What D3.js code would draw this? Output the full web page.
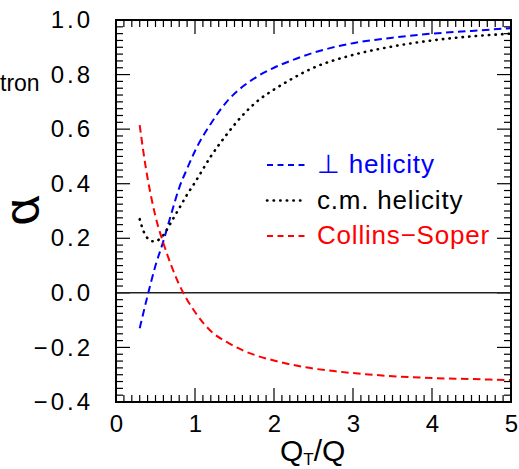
<!DOCTYPE html>
<html>
<head>
<meta charset="utf-8">
<script src="https://cdn.jsdelivr.net/npm/d3@7"></script>
<style>
  html, body { margin: 0; padding: 0; background: #fff; }
  svg { display: block; }
  text { font-family: "Liberation Sans", Arial, sans-serif; }
</style>
</head>
<body>
<svg id="chart" width="519" height="469"></svg>
<script>
// alpha vs Q_T/Q in three frames
const qtPerp    = [0.3, 0.4, 0.5, 0.6, 0.7, 0.8, 0.9, 1.0, 1.2, 1.4, 1.6, 1.8, 2.0, 2.25, 2.5, 3.0, 3.5, 4.0, 4.5, 5.0];
const alphaPerp = [-0.13, -0.01, 0.10, 0.19, 0.29, 0.385, 0.455, 0.52, 0.62, 0.70, 0.755, 0.795, 0.825, 0.855, 0.88, 0.915, 0.935, 0.95, 0.96, 0.97];

const qtCM      = [0.3, 0.35, 0.4, 0.45, 0.5, 0.55, 0.6, 0.7, 0.8, 0.9, 1.0, 1.2, 1.4, 1.6, 1.8, 2.0, 2.2, 2.5, 3.0, 3.5, 4.0, 4.5, 5.0];
const alphaCM   = [0.27, 0.225, 0.20, 0.19, 0.188, 0.197, 0.212, 0.26, 0.31, 0.36, 0.405, 0.50, 0.58, 0.65, 0.705, 0.745, 0.78, 0.825, 0.872, 0.903, 0.925, 0.94, 0.95];

const qtCS      = [0.3, 0.35, 0.4, 0.45, 0.5, 0.6, 0.7, 0.8, 0.9, 1.0, 1.2, 1.4, 1.6, 1.8, 2.0, 2.4, 2.8, 3.2, 3.6, 4.0, 4.5, 5.0];
const alphaCS   = [0.615, 0.51, 0.42, 0.345, 0.28, 0.182, 0.10, 0.03, -0.025, -0.07, -0.14, -0.18, -0.21, -0.232, -0.248, -0.273, -0.288, -0.299, -0.307, -0.312, -0.316, -0.32];

const xTickValues = [0, 1, 2, 3, 4, 5];
const yTickValues = [-0.4, -0.2, 0.0, 0.2, 0.4, 0.6, 0.8, 1.0];

const legendLabels = ["\u22A5 helicity", "c.m. helicity", "Collins\u2212Soper"];

const series = [
  { x: qtPerp, y: alphaPerp, color: "#0000ff", label: legendLabels[0] },
  { x: qtCM,   y: alphaCM,   color: "#000000", label: legendLabels[1], dotted: true },
  { x: qtCS,   y: alphaCS,   color: "#ff0000", label: legendLabels[2] }
];

const svg = d3.select("#chart");
const L = 116, R = 511, T = 20, B = 402;

const x = d3.scaleLinear().domain([0, 5]).range([L, R]);
const y = d3.scaleLinear().domain([-0.4, 1.0]).range([B, T]);

// minor + major ticks on all four sides, drawn inward
const xMinor = d3.range(0, 5.0001, 0.1).map(v => +v.toFixed(2));
const yMinor = d3.range(-0.4, 1.0001, 0.025).map(v => +v.toFixed(3));

function isMajor(v, step) { return Math.abs(v / step - Math.round(v / step)) < 1e-6; }

const tickG = svg.append("g").attr("stroke", "#000").attr("stroke-width", 1.2);
xMinor.forEach(v => {
  const len = isMajor(v, 1) ? 14 : 7;
  tickG.append("line").attr("x1", x(v)).attr("x2", x(v)).attr("y1", B).attr("y2", B - len);
  tickG.append("line").attr("x1", x(v)).attr("x2", x(v)).attr("y1", T).attr("y2", T + len);
});
yMinor.forEach(v => {
  const len = isMajor(v, 0.2) ? 14 : 7;
  tickG.append("line").attr("x1", L).attr("x2", L + len).attr("y1", y(v)).attr("y2", y(v));
  tickG.append("line").attr("x1", R).attr("x2", R - len).attr("y1", y(v)).attr("y2", y(v));
});

// zero line
svg.append("line")
  .attr("x1", L).attr("x2", R).attr("y1", y(0)).attr("y2", y(0))
  .attr("stroke", "#222").attr("stroke-width", 1.5);

// tick labels via d3 axis generators (axis lines hidden, text kept)
const xAxis = svg.append("g").attr("transform", `translate(0,${B})`)
  .call(d3.axisBottom(x).tickValues(xTickValues).tickFormat(d3.format("d")).tickSize(0).tickPadding(13));
const yAxis = svg.append("g").attr("transform", `translate(${L},0)`)
  .call(d3.axisLeft(y).tickValues(yTickValues).tickFormat(d => d3.format(".1f")(d).replace("-", "\u2212")).tickSize(0).tickPadding(23));
[xAxis, yAxis].forEach(g => {
  g.select(".domain").remove();
  g.selectAll("text").attr("font-family", "DejaVu Sans, sans-serif").attr("font-size", 24).attr("fill", "#000");
});
yAxis.selectAll("text").attr("letter-spacing", 3);

// curve styles
function styleStroke(sel, s, legend) {
  sel.attr("fill", "none")
    .attr("stroke", s.color)
    .attr("stroke-width", s.dotted ? 2.6 : 2)
    .attr("stroke-dasharray", s.dotted ? "0.4,6.2" : (legend ? "6,4.5" : "7.5,4.5"))
    .attr("stroke-linecap", s.dotted ? "round" : "butt");
}

const line = d3.line().x(d => x(d[0])).y(d => y(d[1])).curve(d3.curveMonotoneX);
series.forEach(s => {
  svg.append("path")
    .datum(s.x.map((v, i) => [v, s.y[i]]))
    .attr("d", line)
    .call(styleStroke, s, false);
});

// frame
svg.append("rect")
  .attr("x", L).attr("y", T).attr("width", R - L).attr("height", B - T)
  .attr("fill", "none").attr("stroke", "#000").attr("stroke-width", 2);

// legend
const lg = svg.append("g");
series.forEach((s, i) => {
  const ly = 165 + i * 35.5;
  lg.append("line")
    .attr("x1", 267).attr("x2", 306).attr("y1", ly).attr("y2", ly)
    .call(styleStroke, s, true);
  lg.append("text")
    .attr("x", 317).attr("y", ly + 8)
    .attr("font-size", 26)
    .attr("letter-spacing", 0.8)
    .attr("fill", s.color)
    .text(s.label);
});

// axis titles
const xt = svg.append("text")
  .attr("x", 280).attr("y", 461)
  .attr("font-size", 30).attr("fill", "#000");
xt.append("tspan").text("Q");
xt.append("tspan").attr("font-size", 17).attr("dy", 4).text("T");
xt.append("tspan").attr("dy", -4).text("/Q");

// y title: alpha turned on its side, baseline on the left so it stays on the canvas
svg.append("text")
  .attr("transform", "translate(12,211) rotate(90) scale(-1,1)")
  .attr("text-anchor", "middle")
  .attr("font-family", "Open Sans, DejaVu Sans, sans-serif")
  .attr("font-style", "italic")
  .attr("font-weight", 300)
  .attr("font-size", 50).attr("fill", "#000")
  .text("\u03B1");

// label fragment at the left margin
svg.append("text")
  .attr("x", 0).attr("y", 91)
  .attr("font-size", 23).attr("fill", "#000")
  .text("tron");
</script>
</body>
</html>
